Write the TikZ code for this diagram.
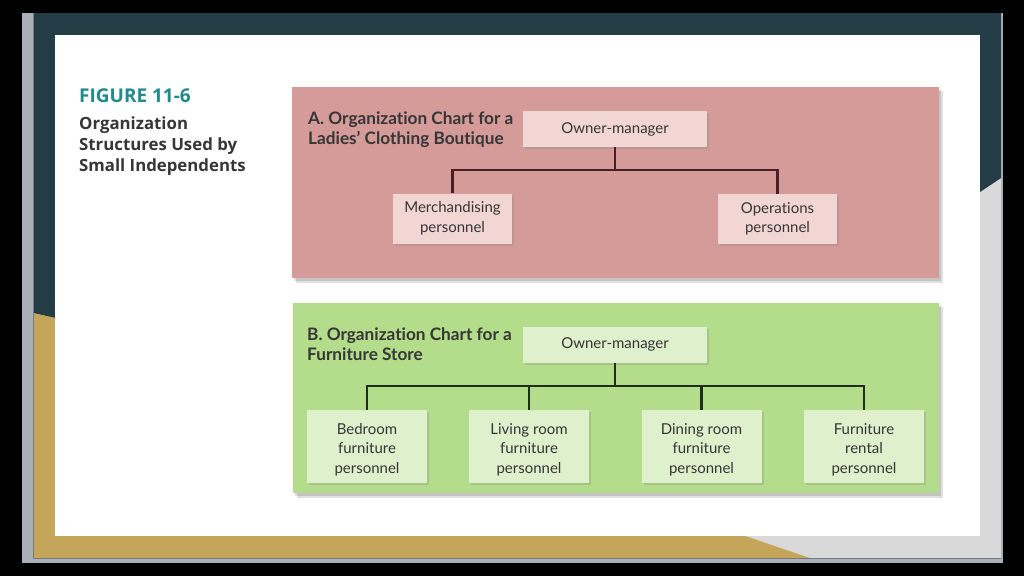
\documentclass[tikz,border=0pt]{standalone}
\usepackage{fontspec}
\setmainfont{Lato}[Ligatures={NoCommon,NoRare}]
\newfontfamily\capfont{Open Sans}
\usetikzlibrary{shadows}
\definecolor{slidegray}{HTML}{AAB0B8}
\definecolor{lightgray}{HTML}{D9D9D9}
\definecolor{tealdark}{HTML}{243C45}
\definecolor{gold}{HTML}{C4A55A}
\definecolor{pinkpanel}{HTML}{D49B99}
\definecolor{pinkbox}{HTML}{F2D6D4}
\definecolor{greenpanel}{HTML}{B3DC8B}
\definecolor{greenbox}{HTML}{DEF0CC}
\definecolor{figteal}{HTML}{218A8C}
\definecolor{textdark}{HTML}{363636}
\definecolor{lineA}{HTML}{4A1E22}
\definecolor{lineB}{HTML}{1E2E1A}
\newcommand{\firstup}{\rule{0pt}{17pt}}
\tikzset{
  panelshadow/.style={fill=black, opacity=0.12},
  boxbase/.style={align=center, inner sep=0pt, text=textdark,
    font=\fontsize{15}{19.5}\selectfont,
    drop shadow={shadow xshift=2pt, shadow yshift=-2pt, opacity=0.25}},
  boxA/.style={boxbase, fill=pinkbox, minimum width=119pt, minimum height=50pt},
  boxB/.style={boxbase, fill=greenbox, minimum width=120pt, minimum height=73pt},
  topbox/.style={boxbase, minimum width=184pt, minimum height=36pt},
  charttitle/.style={anchor=north west, align=left, inner sep=0pt, text=textdark,
    font=\bfseries\fontsize{17.2}{19.5}\selectfont},
  connA/.style={draw=lineA, line width=2.6pt},
  connB/.style={draw=lineB, line width=2.6pt},
}
\begin{document}
\begin{tikzpicture}[x=1pt,y=-1pt]
\useasboundingbox (0,0) rectangle (1024,576);
% background and slide frame
\fill[black] (0,0) rectangle (1024,576);
\fill[slidegray] (22,13) rectangle (1003,563);
\fill[lightgray] (33,13) rectangle (1001,558);
\fill[tealdark] (33,13) -- (1001,13) -- (1001,178) -- (980,192) -- (980,35) -- (55,35) -- (55,318) -- (33,313) -- cycle;
\fill[gold] (33,313) -- (55,318) -- (55,536) -- (745,536) -- (810,558) -- (33,558) -- cycle;
\draw[slidegray!70!black, line width=0.8pt] (33,13) -- (33,558) -- (1001,558);
\fill[white] (55,35) rectangle (980,536);

% caption
\node[anchor=base west, inner sep=0pt, text=figteal, font=\capfont\bfseries\fontsize{19}{21}\selectfont] (figlabel) at (79,102) {FIGURE 11-6};
\node[anchor=north west, align=left, inner sep=0pt, text=textdark, font=\capfont\bfseries\fontsize{16.8}{21}\selectfont] (figtitle) at (79,117) {Organization\\Structures Used by\\Small Independents};

% panel A
\fill[panelshadow] (296,91) rectangle (943,283);
\fill[panelshadow] (294,89) rectangle (941,281);
\fill[pinkpanel] (292,87) rectangle (939,278);
\node[charttitle] (titleA) at (308,112) {A. Organization Chart for a\\Ladies' Clothing Boutique};
\node[topbox, fill=pinkbox] (oA) at (615,129) {Owner-manager};
\node[boxA] (mA) at (452.5,218.5) {Merchandising\\personnel};
\node[boxA] (opA) at (777.5,219) {Operations\\personnel};
\coordinate (jA) at (615,170);
\draw[connA] (oA.south) -- (jA);
\draw[connA, line join=miter] (mA.north) |- (jA) -| (opA.north);

% panel B
\fill[panelshadow] (297,307) rectangle (943,498);
\fill[panelshadow] (295,305) rectangle (941,496);
\fill[greenpanel] (293,303) rectangle (939,493);
\node[charttitle] (titleB) at (307,328) {B. Organization Chart for a\\Furniture Store};
\node[topbox, fill=greenbox] (oB) at (615,344.5) {Owner-manager};
\node[boxB] (bd) at (367,446.5) {\firstup Bedroom\\furniture\\personnel};
\node[boxB] (lv) at (529,446.5) {\firstup Living room\\furniture\\personnel};
\node[boxB] (dn) at (701.5,446.5) {\firstup Dining room\\furniture\\personnel};
\node[boxB] (rt) at (864,446.5) {\firstup Furniture\\rental\\personnel};
\coordinate (jB) at (615,386);
\draw[connB] (oB.south) -- (jB);
\draw[connB, line join=miter] (bd.north) |- (jB) -| (rt.north);
\draw[connB] (lv.north) -- (lv.north |- jB);
\draw[connB] (dn.north) -- (dn.north |- jB);
\end{tikzpicture}
\end{document}
